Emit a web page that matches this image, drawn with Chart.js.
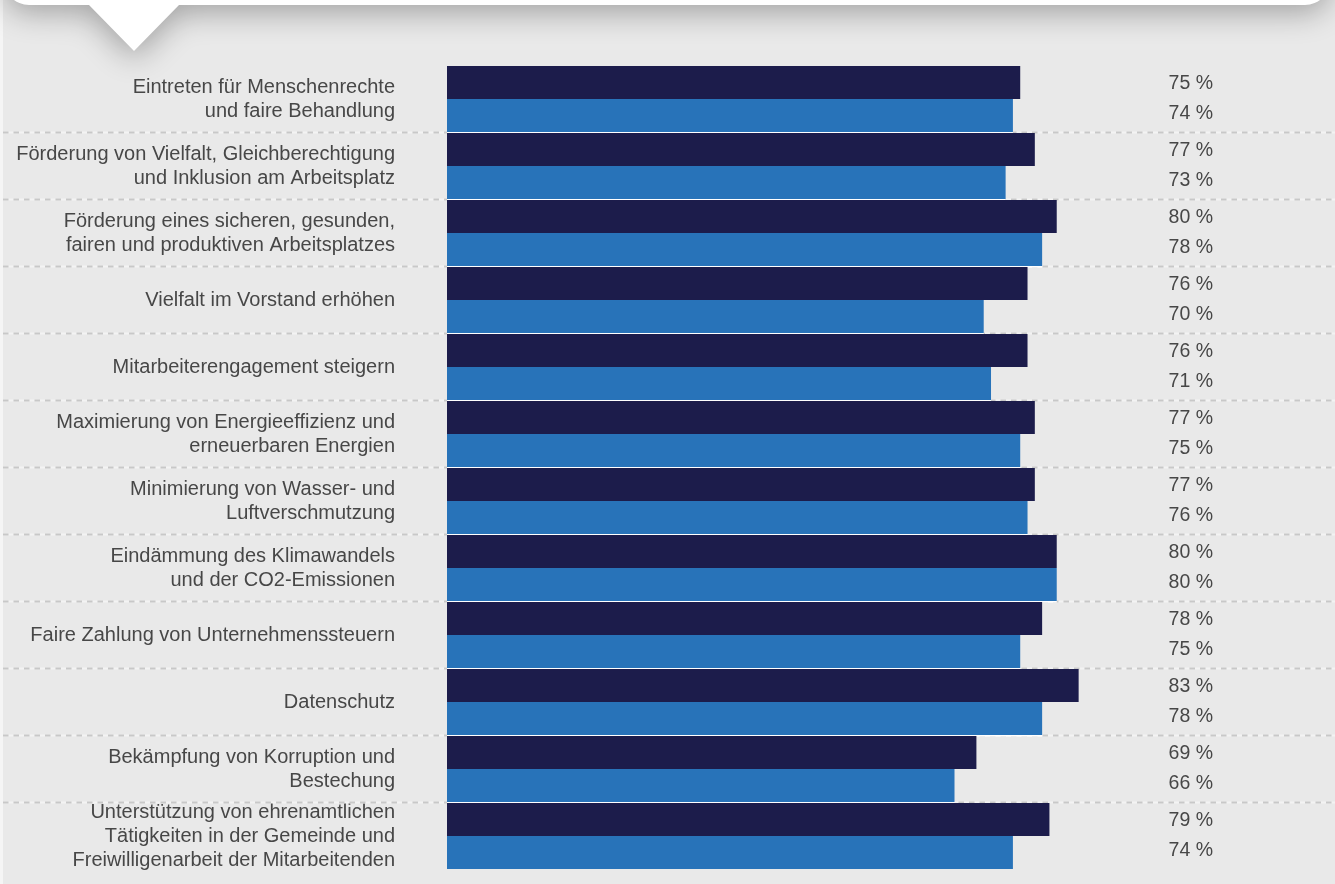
<!DOCTYPE html>
<html lang="de">
<head>
<meta charset="utf-8">
<title>Prioritäten</title>
<script src="https://cdn.jsdelivr.net/npm/chart.js@4.4.1/dist/chart.umd.min.js"></script>
<style>
    html, body { margin: 0; padding: 0; background: #e9e9e9; overflow: hidden; }
    #wrap { position: relative; width: 1335px; height: 884px; }
</style>
</head>
<body>
<div id="wrap"><canvas id="chart"></canvas></div>
<script>
// Categories (multi-line labels as arrays)
const categories = [
    ['Eintreten für Menschenrechte', 'und faire Behandlung'],
    ['Förderung von Vielfalt, Gleichberechtigung', 'und Inklusion am Arbeitsplatz'],
    ['Förderung eines sicheren, gesunden,', 'fairen und produktiven Arbeitsplatzes'],
    'Vielfalt im Vorstand erhöhen',
    'Mitarbeiterengagement steigern',
    ['Maximierung von Energieeffizienz und', 'erneuerbaren Energien'],
    ['Minimierung von Wasser- und', 'Luftverschmutzung'],
    ['Eindämmung des Klimawandels', 'und der CO2-Emissionen'],
    'Faire Zahlung von Unternehmenssteuern',
    'Datenschutz',
    ['Bekämpfung von Korruption und', 'Bestechung'],
    ['Unterstützung von ehrenamtlichen', 'Tätigkeiten in der Gemeinde und', 'Freiwilligenarbeit der Mitarbeitenden']
];

// Series values (%)
const seriesDark = [75, 77, 80, 76, 76, 77, 77, 80, 78, 83, 69, 79];
const seriesBlue = [74, 73, 78, 70, 71, 75, 76, 80, 75, 78, 66, 74];

// Value axis range (bars start a little left of 0 in the original)
const axisMin = -3.5;
const axisMax = 101.4;

const FONT = '"Liberation Sans", Arial, Helvetica, sans-serif';
const TEXT_COLOR = '#474747';

// Grey panel with the white speech bubble on top
const backdrop = {
    id: 'backdrop',
    beforeDraw(chart) {
        const ctx = chart.ctx;
        const w = chart.width, h = chart.height;
        ctx.save();
        ctx.fillStyle = '#e9e9e9';
        ctx.fillRect(0, 0, w, h);
        ctx.fillStyle = '#f5f5f5';
        ctx.fillRect(0, 0, 3, h);

        ctx.shadowColor = 'rgba(0, 0, 0, 0.3)';
        ctx.shadowBlur = 30;
        ctx.shadowOffsetY = 8;
        ctx.fillStyle = '#ffffff';
        ctx.beginPath();
        ctx.moveTo(4, -60);
        ctx.lineTo(1330, -60);
        ctx.arcTo(1330, 5, 1305, 5, 25);
        ctx.lineTo(179, 5);
        ctx.lineTo(134, 51);
        ctx.lineTo(89, 5);
        ctx.arcTo(4, 5, 4, -20, 25);
        ctx.closePath();
        ctx.fill();
        ctx.restore();
    }
};

// Dashed separators between the category groups
const separators = {
    id: 'separators',
    beforeDatasetsDraw(chart) {
        const { ctx, scales: { y }, chartArea } = chart;
        const blueBars = chart.getDatasetMeta(1).data;
        ctx.save();
        for (let i = 1; i < categories.length; i++) {
            const yy = Math.round((y.getPixelForValue(i - 1) + y.getPixelForValue(i)) / 2);
            ctx.fillStyle = '#f3f3f3';
            ctx.fillRect(3, yy - 1.5, chart.width, 2);
            ctx.strokeStyle = '#c8c8c8';
            ctx.lineWidth = 2;
            ctx.setLineDash([5.5, 5]);
            ctx.beginPath();
            ctx.moveTo(3, yy - 0.5);
            ctx.lineTo(chart.width, yy - 0.5);
            ctx.stroke();
            // solid white under the bar of the group above
            ctx.fillStyle = '#ffffff';
            ctx.fillRect(chartArea.left, yy - 1.5, blueBars[i - 1].x - chartArea.left, 2);
        }
        ctx.restore();
    }
};

// Percent labels at the right
const valueLabels = {
    id: 'valueLabels',
    afterDatasetsDraw(chart) {
        const { ctx, scales: { y }, chartArea } = chart;
        ctx.save();
        ctx.font = `19.5px ${FONT}`;
        ctx.fillStyle = TEXT_COLOR;
        ctx.textAlign = 'right';
        ctx.textBaseline = 'middle';
        categories.forEach((c, i) => {
            const cy = y.getPixelForValue(i);
            ctx.fillText(`${seriesDark[i]} %`, chartArea.right, cy - 15);
            ctx.fillText(`${seriesBlue[i]} %`, chartArea.right, cy + 15);
        });
        ctx.restore();
    }
};

const ctx = document.getElementById('chart').getContext('2d');
const chart = new Chart(ctx, {
    type: 'bar',
    data: {
        labels: categories,
        datasets: [
            {
                label: 'Reihe 1',
                data: seriesDark,
                backgroundColor: '#1c1c4b',
                base: axisMin,
                borderWidth: 0,
                categoryPercentage: 66 / 67,
                barPercentage: 1
            },
            {
                label: 'Reihe 2',
                data: seriesBlue,
                backgroundColor: '#2873b9',
                base: axisMin,
                borderWidth: 0,
                categoryPercentage: 66 / 67,
                barPercentage: 1
            }
        ]
    },
    options: {
        indexAxis: 'y',
        responsive: true,
        maintainAspectRatio: false,
        animation: false,
        layout: {
            padding: { top: 65.5, right: 122, bottom: 14.5, left: 0 }
        },
        plugins: {
            legend: { display: false },
            tooltip: { enabled: false }
        },
        scales: {
            x: {
                display: false,
                min: axisMin,
                max: axisMax
            },
            y: {
                grid: { display: false, drawTicks: false },
                border: { display: false },
                ticks: {
                    autoSkip: false,
                    padding: 52,
                    color: TEXT_COLOR,
                    font: { family: FONT, size: 20, lineHeight: 1.2 }
                },
                afterFit(scale) {
                    scale.width = 447;
                    scale.paddingTop = 0;
                    scale.paddingBottom = 0;
                }
            }
        }
    },
    plugins: [backdrop, separators, valueLabels]
});
</script>
</body>
</html>
